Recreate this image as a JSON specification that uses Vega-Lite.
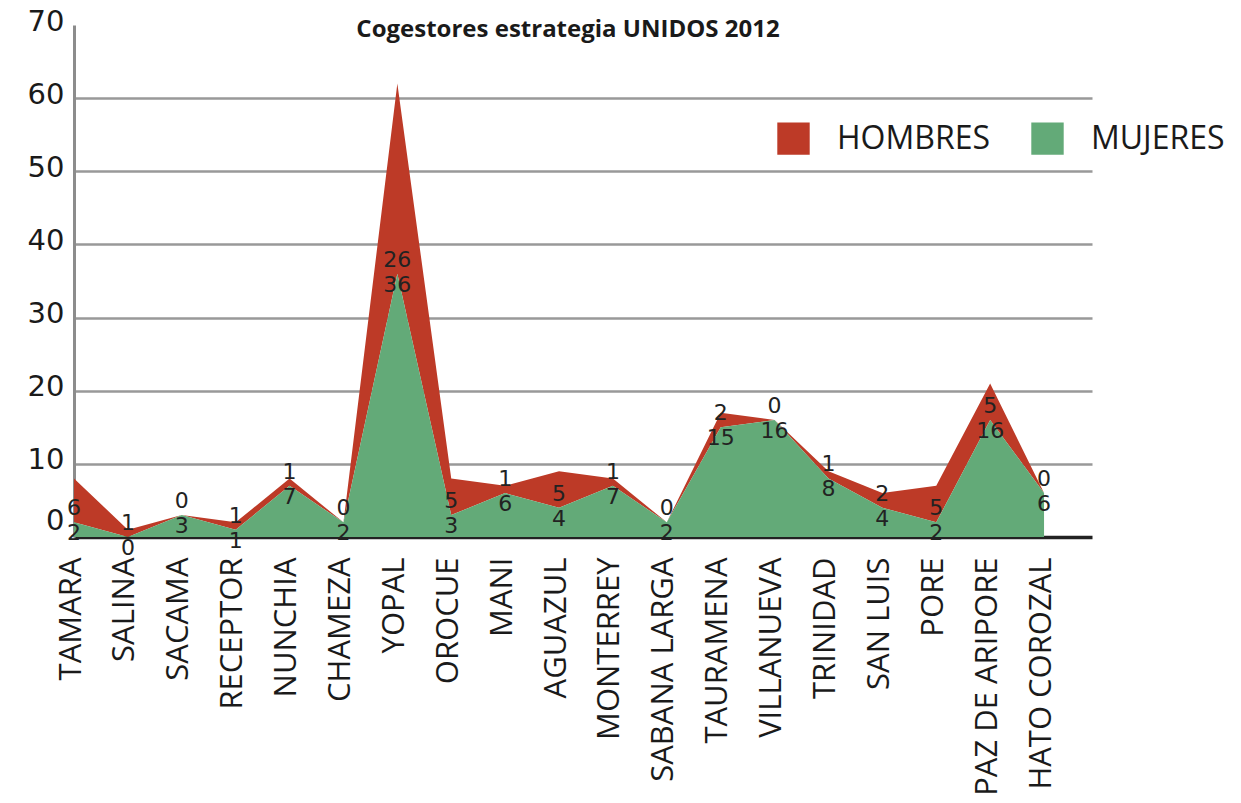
{
  "$schema": "https://vega.github.io/schema/vega-lite/v6.json",
  "width": 1018,
  "height": 512,
  "autosize": "none",
  "padding": {"left": 74, "top": 25, "right": 149, "bottom": 266},
  "background": "white",
  "title": {"text": "Cogestores estrategia UNIDOS 2012", "font": "Open Sans", "fontSize": 24, "fontWeight": "bold", "color": "#1a1a1a", "anchor": "middle", "baseline": "middle", "offset": 0, "dx": -15, "dy": 47},
  "config": {"view": {"stroke": null}},
  "data": {"values": [
    {"MUNICIPIO": "TAMARA", "MUJERES": 2, "HOMBRES": 6},
    {"MUNICIPIO": "SALINA", "MUJERES": 0, "HOMBRES": 1},
    {"MUNICIPIO": "SACAMA", "MUJERES": 3, "HOMBRES": 0},
    {"MUNICIPIO": "RECEPTOR", "MUJERES": 1, "HOMBRES": 1},
    {"MUNICIPIO": "NUNCHIA", "MUJERES": 7, "HOMBRES": 1},
    {"MUNICIPIO": "CHAMEZA", "MUJERES": 2, "HOMBRES": 0},
    {"MUNICIPIO": "YOPAL", "MUJERES": 36, "HOMBRES": 26},
    {"MUNICIPIO": "OROCUE", "MUJERES": 3, "HOMBRES": 5},
    {"MUNICIPIO": "MANI", "MUJERES": 6, "HOMBRES": 1},
    {"MUNICIPIO": "AGUAZUL", "MUJERES": 4, "HOMBRES": 5},
    {"MUNICIPIO": "MONTERREY", "MUJERES": 7, "HOMBRES": 1},
    {"MUNICIPIO": "SABANA LARGA", "MUJERES": 2, "HOMBRES": 0},
    {"MUNICIPIO": "TAURAMENA", "MUJERES": 15, "HOMBRES": 2},
    {"MUNICIPIO": "VILLANUEVA", "MUJERES": 16, "HOMBRES": 0},
    {"MUNICIPIO": "TRINIDAD", "MUJERES": 8, "HOMBRES": 1},
    {"MUNICIPIO": "SAN LUIS", "MUJERES": 4, "HOMBRES": 2},
    {"MUNICIPIO": "PORE", "MUJERES": 2, "HOMBRES": 5},
    {"MUNICIPIO": "PAZ DE ARIPORE", "MUJERES": 16, "HOMBRES": 5},
    {"MUNICIPIO": "HATO COROZAL", "MUJERES": 6, "HOMBRES": 0}
  ]},
  "encoding": {
    "x": {
      "field": "MUNICIPIO", "type": "nominal", "sort": null, "title": null,
      "scale": {"type": "point", "padding": 0.445, "align": 0},
      "axis": {"labelAngle": -90, "labelAlign": "right", "labelBaseline": "middle", "labelFont": "Open Sans", "labelFontSize": 31, "labelColor": "#1a1a1a", "labelPadding": 20, "labelOffset": -3, "ticks": false, "domain": true, "domainColor": "#222222", "domainWidth": 3.5, "grid": false, "labelOverlap": false, "labelLimit": 400}
    }
  },
  "layer": [
    {
      "transform": [{"fold": ["HOMBRES", "MUJERES"], "as": ["SEXO", "VALOR"]}],
      "mark": {"type": "area", "interpolate": "linear", "opacity": 1},
      "encoding": {
        "y": {"field": "VALOR", "type": "quantitative", "stack": "zero", "title": null,
          "scale": {"domain": [0, 70], "nice": false},
          "axis": {"values": [0, 10, 20, 30, 40, 50, 60, 70], "grid": true, "gridColor": "#999999", "gridWidth": 2.5,
            "gridOpacity": {"condition": {"test": "datum.value == 0 || datum.value == 70", "value": 0}, "value": 1},
            "domain": true, "domainColor": "#8c8c8c", "domainWidth": 3, "ticks": false,
            "labelFont": "DejaVu Sans", "labelFontSize": 29, "labelColor": "#1a1a1a", "labelPadding": 10,
            "labelOffset": {"condition": {"test": "datum.value == 0", "value": -17}, "value": -4}}},
        "color": {"field": "SEXO", "type": "nominal",
          "scale": {"domain": ["HOMBRES", "MUJERES"], "range": ["#bd3a27", "#63aa78"]},
          "legend": {"orient": "none", "legendX": 703, "legendY": 97, "direction": "horizontal", "title": null, "symbolType": "square", "symbolSize": 1050, "symbolStrokeWidth": 0, "symbolOpacity": 1, "labelFont": "Open Sans", "labelFontSize": 32, "labelColor": "#1a1a1a", "labelOffset": 27, "columnPadding": 40, "padding": 0}},
        "order": {"field": "SEXO", "sort": "descending"}
      }
    },
    {
      "mark": {"type": "text", "baseline": "middle", "dy": 11, "font": "DejaVu Sans", "fontSize": 22, "color": "#222222"},
      "encoding": {
        "y": {"field": "MUJERES", "type": "quantitative", "title": null},
        "text": {"field": "MUJERES", "type": "quantitative"}
      }
    },
    {
      "mark": {"type": "text", "baseline": "middle", "dy": -14, "font": "DejaVu Sans", "fontSize": 22, "color": "#222222"},
      "encoding": {
        "y": {"field": "MUJERES", "type": "quantitative", "title": null},
        "text": {"field": "HOMBRES", "type": "quantitative"}
      }
    }
  ]
}
